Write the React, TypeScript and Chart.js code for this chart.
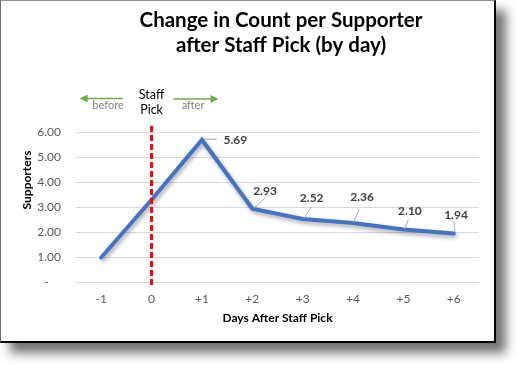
import React, { useEffect, useRef } from "react";
import { Chart, registerables } from "chart.js";

Chart.register(...registerables);

const CATEGORIES = ["-1", "0", "+1", "+2", "+3", "+4", "+5", "+6"];
const SUPPORTERS = [0.98, 3.29, 5.69, 2.93, 2.52, 2.36, 2.1, 1.94];
const SHOW_LABEL = [false, false, true, true, true, true, true, true];
const Y_TICK_VALUES = [0, 1, 2, 3, 4, 5, 6];
const TITLE_LINES = ["Change in Count per Supporter", "after Staff Pick (by day)"];
const STAFF_PICK_INDEX = 1;

// label placement (px offsets from point): [labelDx, labelDy, leaderX1, leaderY1, leaderX2, leaderY2, align]
const LABEL_LAYOUT: Array<[number, number, number, number, number, number, CanvasTextAlign]> = [
  [0, 0, 0, 0, 0, 0, "center"],
  [0, 0, 0, 0, 0, 0, "center"],
  [21.5, 0, 2, -0.5, 15, -0.5, "left"],
  [12.7, -17.4, 2, -1, 12.7, -10.7, "center"],
  [9, -21, 2, -1, 8.3, -12, "center"],
  [9, -25.6, 0.5, -0.6, 6, -13.3, "center"],
  [6.5, -18.8, 1, -0.5, 5, -9.8, "center"],
  [2.2, -18.8, 1, -1, 0, -12, "center"],
];

const FONT = "Lato, 'Open Sans', sans-serif";

const overlayPlugin = {
  id: "overlay",
  beforeDatasetDraw(chart: any) {
    const ctx = chart.ctx;
    ctx.save();
    ctx.shadowColor = "rgba(0,0,0,0.35)";
    ctx.shadowBlur = 4;
    ctx.shadowOffsetX = 1.5;
    ctx.shadowOffsetY = 2.5;
  },
  afterDatasetDraw(chart: any) {
    chart.ctx.restore();
  },
  afterDatasetsDraw(chart: any) {
    const ctx = chart.ctx;
    const xs = chart.scales.x;
    const ys = chart.scales.y;
    const meta = chart.getDatasetMeta(0);

    // data labels with leader lines
    meta.data.forEach((pt: any, i: number) => {
      if (!SHOW_LABEL[i]) return;
      const [dx, dy, lx1, ly1, lx2, ly2, align] = LABEL_LAYOUT[i];
      ctx.save();
      ctx.strokeStyle = "#A6A6A6";
      ctx.lineWidth = 1;
      ctx.beginPath();
      ctx.moveTo(pt.x + lx1, pt.y + ly1);
      ctx.lineTo(pt.x + lx2, pt.y + ly2);
      ctx.stroke();
      ctx.fillStyle = "#404040";
      ctx.font = `bold 12px ${FONT}`;
      ctx.textAlign = align;
      ctx.textBaseline = "middle";
      ctx.fillText(SUPPORTERS[i].toFixed(2), pt.x + dx, pt.y + dy);
      ctx.restore();
    });

    // red dashed staff pick line
    const sx = xs.getPixelForValue(STAFF_PICK_INDEX);
    ctx.save();
    ctx.strokeStyle = "#FF0000";
    ctx.lineWidth = 3;
    ctx.setLineDash([6, 3]);
    ctx.beginPath();
    ctx.moveTo(sx, ys.top - 6);
    ctx.lineTo(sx, ys.bottom + 3);
    ctx.stroke();
    ctx.restore();

    // Staff Pick annotation
    ctx.save();
    ctx.fillStyle = "#000000";
    ctx.font = `12.5px ${FONT}`;
    ctx.textAlign = "center";
    ctx.textBaseline = "middle";
    ctx.fillText("Staff", sx, ys.top - 37);
    ctx.fillText("Pick", sx, ys.top - 22.5);

    const green = "#70AD47";
    ctx.strokeStyle = green;
    ctx.fillStyle = green;
    ctx.lineWidth = 1.5;
    const ay = ys.top - 33.5;
    // left arrow
    ctx.beginPath();
    ctx.moveTo(sx - 28.5, ay);
    ctx.lineTo(sx - 66, ay);
    ctx.stroke();
    ctx.beginPath();
    ctx.moveTo(sx - 72, ay);
    ctx.lineTo(sx - 64, ay - 4);
    ctx.lineTo(sx - 64, ay + 4);
    ctx.closePath();
    ctx.fill();
    // right arrow
    const ay2 = ay + 0.5;
    ctx.beginPath();
    ctx.moveTo(sx + 21.5, ay2);
    ctx.lineTo(sx + 60, ay2);
    ctx.stroke();
    ctx.beginPath();
    ctx.moveTo(sx + 67, ay2);
    ctx.lineTo(sx + 59, ay2 - 4);
    ctx.lineTo(sx + 59, ay2 + 4);
    ctx.closePath();
    ctx.fill();

    ctx.fillStyle = "#7F7F7F";
    ctx.font = `11px ${FONT}`;
    ctx.fillText("before", sx - 43.5, ys.top - 27);
    ctx.fillText("after", sx + 41.5, ys.top - 27);
    ctx.restore();

    // Title
    ctx.save();
    ctx.fillStyle = "#000000";
    ctx.font = `bold 20.5px ${FONT}`;
    ctx.textAlign = "center";
    ctx.textBaseline = "alphabetic";
    ctx.fillText(TITLE_LINES[0], 280, 26);
    ctx.fillText(TITLE_LINES[1], 280, 51);
    ctx.restore();

    // Y axis title
    ctx.save();
    ctx.translate(26, 179);
    ctx.rotate(-Math.PI / 2);
    ctx.fillStyle = "#000000";
    ctx.font = `bold 12px ${FONT}`;
    ctx.textAlign = "center";
    ctx.textBaseline = "middle";
    ctx.fillText("Supporters", 0, 0);
    ctx.restore();
  },
};

export default function App() {
  const ref = useRef<HTMLCanvasElement | null>(null);

  useEffect(() => {
    if (!ref.current) return;
    const chart = new Chart(ref.current, {
      type: "line",
      data: {
        labels: CATEGORIES,
        datasets: [
          {
            data: SUPPORTERS,
            borderColor: "#4472C4",
            borderWidth: 4,
            pointRadius: 0,
            pointHoverRadius: 0,
            tension: 0,
            fill: false,
            borderJoinStyle: "miter",
            borderCapStyle: "round",
            clip: false as any,
          },
        ],
      },
      options: {
        animation: false,
        responsive: false,
        maintainAspectRatio: false,
        devicePixelRatio: 1,
        layout: { padding: { left: 0, top: 131, right: 15, bottom: 0 } },
        plugins: {
          legend: { display: false },
          title: { display: false },
          tooltip: { enabled: false },
        },
        scales: {
          x: {
            offset: true,
            grid: { display: false, drawTicks: false },
            border: { display: false },
            ticks: {
              color: "#595959",
              font: { family: FONT, size: 12 },
              padding: 10,
              maxRotation: 0,
            },
            title: {
              display: true,
              text: "Days After Staff Pick",
              color: "#000000",
              font: { family: FONT, size: 12, weight: "bold" },
              padding: { top: 0, bottom: 16 },
            },
            afterFit: (s: any) => {
              s.height = 59;
            },
          },
          y: {
            min: 0,
            max: 6,
            afterBuildTicks: (s: any) => {
              s.ticks = Y_TICK_VALUES.map((v) => ({ value: v }));
            },
            grid: { color: "#D9D9D9", lineWidth: 1, drawTicks: false },
            border: { display: false },
            ticks: {
              color: "#595959",
              font: { family: FONT, size: 12 },
              padding: 15,
              callback: (v: any) => (Number(v) === 0 ? "-    " : Number(v).toFixed(2)),
            },
            afterFit: (s: any) => {
              s.width = 75;
            },
          },
        },
      },
      plugins: [overlayPlugin],
    });
    return () => chart.destroy();
  }, []);

  return (
    <div
      style={{
        position: "absolute",
        left: 0,
        top: 0,
        width: 496,
        height: 343,
        boxSizing: "border-box",
        borderLeft: "1px solid #6f6f6f",
        borderTop: "1px solid #8f8f8f",
        borderRight: "2px solid #000",
        borderBottom: "2px solid #000",
        background: "#fff",
        boxShadow: "10px 10px 10px rgba(0,0,0,0.55)",
      }}
    >
      <canvas ref={ref} width={493} height={340} style={{ display: "block" }} />
    </div>
  );
}
